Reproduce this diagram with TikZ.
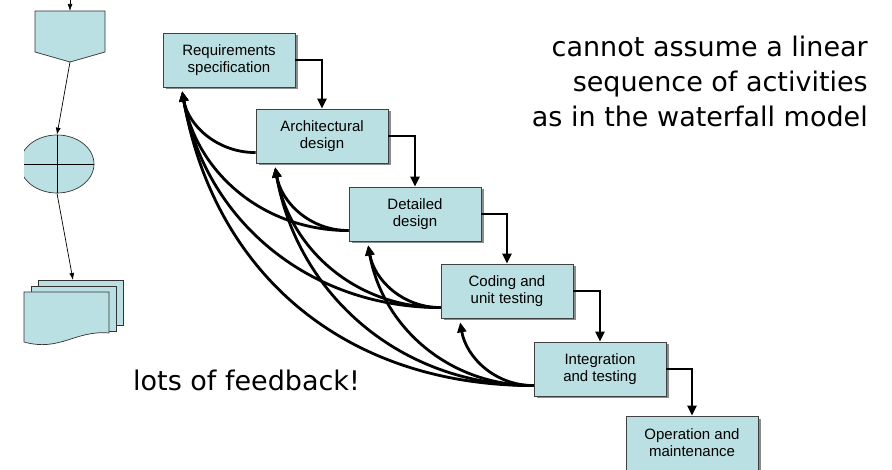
\documentclass[tikz,border=0pt]{standalone}
\usepackage{fontspec}
\newfontfamily\boxfont{Liberation Sans}
\newfontfamily\notefont{DejaVu Sans}
\usetikzlibrary{arrows.meta, shadows, shapes.geometric, positioning}

\definecolor{phasefill}{RGB}{187,224,227}
\definecolor{phaseline}{RGB}{64,64,64}

\begin{document}
\begin{tikzpicture}[x=1pt, y=1pt,
    % Phase style
    phasebox/.style={
        rectangle,
        draw=phaseline,
        line width=0.9pt,
        fill=phasefill,
        minimum width=132pt,
        minimum height=54pt,
        inner sep=0pt,
        font=\boxfont\fontsize{15}{17}\selectfont,
        align=center,
        drop shadow={shadow xshift=2.5pt, shadow yshift=-2.5pt, fill=black!45, opacity=1}
    },
    % Flowchart symbol style
    symbolshape/.style={
        draw=black!80,
        line width=0.7pt,
        fill=phasefill
    },
    notetext/.style={
        font=\notefont\fontsize{27}{35}\selectfont,
        inner sep=0pt
    },
    steparrow/.style={
        -{Triangle[length=10pt,width=9pt]},
        line width=2.8pt,
        black
    },
    feedback/.style={
        steparrow,
        shorten >=4pt,
        out=180,
        in=-80
    },
    flowarrow/.style={
        -{Latex[length=7pt,width=5pt]},
        line width=0.7pt
    }
]
\useasboundingbox (0,0) rectangle (892,-470);

% === Waterfall phases ===
\node[phasebox] (req) at (229,-60) {Requirements\\specification};
\node[phasebox] (arch) at (322,-136) {Architectural\\design};
\node[phasebox] (det) at (415,-214) {Detailed\\design};
\node[phasebox] (cod) at (507,-291) {Coding and\\unit testing};
\node[phasebox] (integ) at (600,-369) {Integration\\and testing};
\node[phasebox] (oper) at (692,-443) {Operation and\\maintenance};

\draw[steparrow] (req.east) -| (arch.north);
\draw[steparrow] (arch.east) -| (det.north);
\draw[steparrow] (det.east) -| (cod.north);
\draw[steparrow] (cod.east) -| (integ.north);
\draw[steparrow] (integ.east) -| (oper.north);

% === Feedback arcs ===
\draw[feedback] (arch.194) to (req.-150);

\draw[feedback] (det.194) to (req.-150);
\draw[feedback] (det.194) to (arch.-150);

\draw[feedback] (cod.194) to (req.-150);
\draw[feedback] (cod.194) to (arch.-150);
\draw[feedback] (cod.194) to (det.-150);

\draw[feedback, looseness=1.05] (integ.194) to (req.-150);
\draw[feedback] (integ.194) to (arch.-150);
\draw[feedback] (integ.194) to (det.-150);
\draw[feedback] (integ.194) to (cod.-150);

% === Notes ===
\node[notetext, anchor=north east, align=right] (remark) at (868,-36)
    {cannot assume a linear\\sequence of activities\\as in the waterfall model};
\node[notetext, anchor=base west] (lotsnote) at (133,-391) {lots of feedback!};

% === Flowchart fragment ===
\coordinate (entry) at (70,0);
\coordinate (offtop) at (70,-11);
\coordinate (offtip) at (70,-62);
\coordinate (docstop) at (73,-280);
\draw[symbolshape] (35,-11) -- (105,-11) -- (105,-52) -- (offtip) -- (35,-52) -- cycle;

\begin{scope}
    \clip (24,0) rectangle (892,-470);
    \node[symbolshape, ellipse, inner sep=0pt, minimum width=74pt, minimum height=58pt] (merge) at (57,-164) {};
\end{scope}
\draw[line width=0.7pt] (24,-164) -- (merge.east);
\draw[line width=0.7pt] (merge.north) -- (merge.south);

\draw[symbolshape] (38,-280) rectangle (123,-325);
\draw[symbolshape] (31,-286) rectangle (116,-331);
\draw[symbolshape] (24,-292) -- (109,-292) -- (109,-333)
    .. controls (75,-330) and (60,-352) .. (24,-342) -- cycle;

\draw[flowarrow] (entry) -- (offtop);
\draw[flowarrow] (offtip) -- (merge.north);
\draw[flowarrow] (merge.south) -- (docstop);

\end{tikzpicture}
\end{document}
